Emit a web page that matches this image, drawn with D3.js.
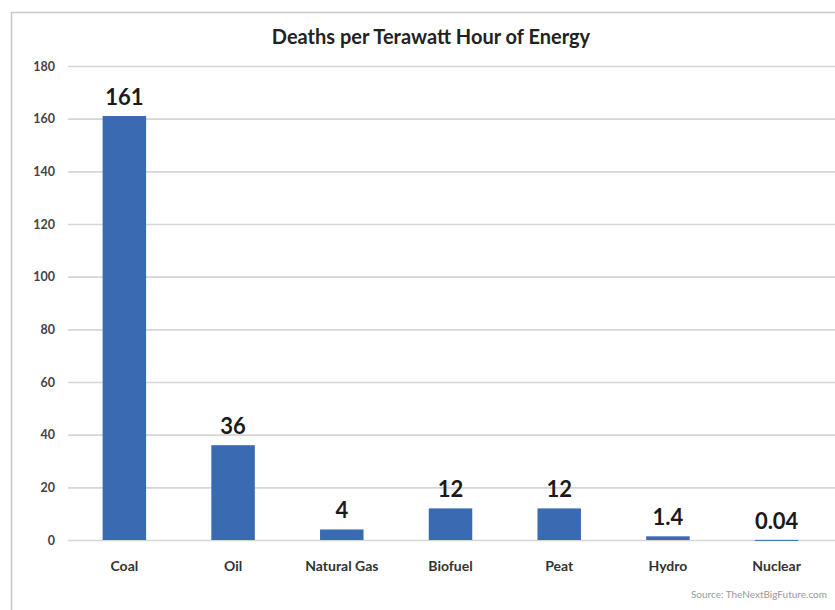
<!DOCTYPE html>
<html>
<head>
<meta charset="utf-8">
<script src="https://cdn.jsdelivr.net/npm/d3@7"></script>
<style>
  html, body { margin: 0; padding: 0; background: #fff; }
  svg { display: block; }
</style>
</head>
<body>
<svg id="chart" width="835" height="610"></svg>
<script>
// Deaths per TWh by energy source
const categories = ["Coal", "Oil", "Natural Gas", "Biofuel", "Peat", "Hydro", "Nuclear"];
const deaths = [161, 36, 4, 12, 12, 1.4, 0.04];
const valueLabels = ["161", "36", "4", "12", "12", "1.4", "0.04"];
const yTicks = [0, 20, 40, 60, 80, 100, 120, 140, 160, 180];

const W = 835, H = 610;
const margin = { left: 70 };
const svg = d3.select("#chart");
const font = "Lato, 'Open Sans', sans-serif";

// chart frame
svg.append("rect")
  .attr("x", 11.5).attr("y", 12.5)
  .attr("width", W + 20).attr("height", H + 20)
  .attr("fill", "#fff")
  .attr("stroke", "#c8c8c8").attr("stroke-width", 1.5);

const x = d3.scaleBand()
  .domain(categories)
  .range([margin.left, 831])
  .paddingInner(0.6).paddingOuter(0.3);

const y = d3.scaleLinear().domain([0, 180]).range([540, 66]);

// gridlines + y labels
const yAxis = d3.axisLeft(y).tickValues(yTicks).tickSize(0).tickPadding(15);
const gy = svg.append("g").attr("transform", `translate(${margin.left},0)`).call(yAxis);
gy.select(".domain").remove();
gy.selectAll("text")
  .attr("font-family", font).attr("font-size", 12.5).attr("font-weight", 700)
  .attr("fill", "#444");
gy.selectAll(".tick").append("line")
  .attr("x1", -2).attr("x2", W - margin.left)
  .attr("stroke", "#d6d6d6").attr("stroke-width", 1.6);

// bars
svg.append("g").selectAll("rect")
  .data(categories)
  .join("rect")
  .attr("x", d => x(d))
  .attr("width", x.bandwidth())
  .attr("y", (d, i) => y(deaths[i]))
  .attr("height", (d, i) => Math.max(y(0) - y(deaths[i]), 1))
  .attr("fill", "#3a6ab2");

// value labels
svg.append("g").selectAll("text")
  .data(categories)
  .join("text")
  .attr("x", d => x(d) + x.bandwidth() / 2)
  .attr("y", (d, i) => y(deaths[i]) - 11)
  .attr("text-anchor", "middle")
  .attr("font-family", font).attr("font-size", 22).attr("font-weight", 700)
  .attr("fill", "#1a1a1a")
  .text((d, i) => valueLabels[i]);

// category axis
const xAxis = d3.axisBottom(x).tickSize(0).tickPadding(21);
const gx = svg.append("g").attr("transform", `translate(0,${y(0)})`).call(xAxis);
gx.select(".domain").remove();
gx.selectAll("text")
  .attr("font-family", font).attr("font-size", 14).attr("font-weight", 700)
  .attr("fill", "#333");

// title
svg.append("text")
  .attr("x", 431).attr("y", 44)
  .attr("text-anchor", "middle")
  .attr("font-family", font).attr("font-size", 20).attr("font-weight", 700)
  .attr("fill", "#222")
  .text("Deaths per Terawatt Hour of Energy");

// source note
svg.append("text")
  .attr("x", 827).attr("y", 598)
  .attr("text-anchor", "end")
  .attr("font-family", font).attr("font-size", 10)
  .attr("fill", "#999")
  .text("Source: TheNextBigFuture.com");
</script>
</body>
</html>
